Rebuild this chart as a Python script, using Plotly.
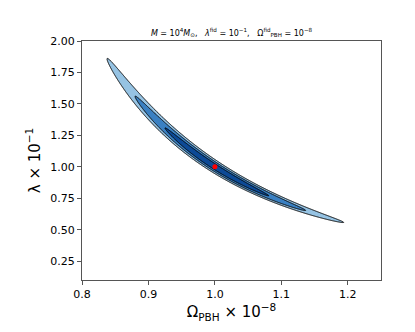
import numpy as np
import plotly.graph_objects as go

# fiducial point (in units of 1e-8 and 1e-1)
omega_fid = [1.0]
lam_fid = [1.0]

# forecast ellipse, in (ln Omega, ln lambda) space
degeneracy_slope = 3.393      # ln(lambda) ~ -slope * ln(Omega)
curvature = -0.572            # slight bending of the degeneracy direction
sigma_along = 0.0515          # width along the degeneracy (ln Omega)
sigma_across = 0.0165         # width across it (ln lambda)

# delta chi^2 levels for 1, 2, 3 sigma
levels = [2.30, 6.18, 11.83]
fill_colors = ["#0d4a96", "#3a80c2", "#96c3e3"]

x_ticks = [0.8, 0.9, 1.0, 1.1, 1.2]
y_ticks = [0.25, 0.5, 0.75, 1.0, 1.25, 1.5, 1.75, 2.0]

# grid
xs = np.linspace(0.8, 1.25, 700)
ys = np.linspace(0.1, 2.0, 900)
X, Y = np.meshgrid(xs, ys)
u = np.log(X / omega_fid[0])
v = np.log(Y / lam_fid[0])
s = u
p = v + degeneracy_slope * u + curvature * u ** 2
chi2 = (s / sigma_along) ** 2 + (p / sigma_across) ** 2
chi2 = np.minimum(chi2, 50).astype(np.float32)

fig = go.Figure()

# draw outermost first so inner regions sit on top
# (plotly shades the region that fails the constraint, hence ">")
for lev, col in sorted(zip(levels, fill_colors), reverse=True):
    fig.add_trace(go.Contour(
        x=xs, y=ys, z=chi2,
        contours=dict(type="constraint", operation=">", value=lev),
        fillcolor=col,
        line=dict(color="black", width=1),
        showscale=False,
        hoverinfo="skip",
    ))

fig.add_trace(go.Scatter(
    x=omega_fid, y=lam_fid, mode="markers",
    marker=dict(color="red", size=5),
    showlegend=False,
))

axis_style = dict(
    showline=True, mirror=True, linecolor="#555555", linewidth=1,
    ticks="outside", ticklen=4, tickcolor="#555555",
    showgrid=False, zeroline=False,
    tickfont=dict(family="DejaVu Sans", size=11, color="black"),
)

fig.update_layout(
    width=415, height=332,
    margin=dict(l=74, r=42, t=33, b=60),
    paper_bgcolor="white", plot_bgcolor="white",
    showlegend=False,
    title=dict(
        text="<i>M</i> = 10<sup>4</sup><i>M</i><sub>⊙</sub>,   "
             "<i>λ</i><sup>fid</sup> = 10<sup>−1</sup>,   "
             "Ω<sup>fid</sup><sub>PBH</sub> = 10<sup>−8</sup>",
        font=dict(family="DejaVu Sans", size=8, color="black"),
        x=(74 + 373) / 2 / 415, xanchor="center",
        yref="container", y=1 - 25 / 332, yanchor="middle",
    ),
    xaxis=dict(
        range=[0.8, 1.25], tickvals=x_ticks, tickformat=".1f",
        title=dict(text="Ω<sub>PBH</sub> × 10<sup>−8</sup>",
                   font=dict(family="DejaVu Sans", size=15, color="black"),
                   standoff=0),
        **axis_style,
    ),
    yaxis=dict(
        range=[0.1, 2.0], tickvals=y_ticks, tickformat=".2f",
        title=dict(text="λ × 10<sup>−1</sup>",
                   font=dict(family="DejaVu Sans", size=15, color="black"),
                   standoff=6),
        **axis_style,
    ),
)

fig.write_html("out.html")
